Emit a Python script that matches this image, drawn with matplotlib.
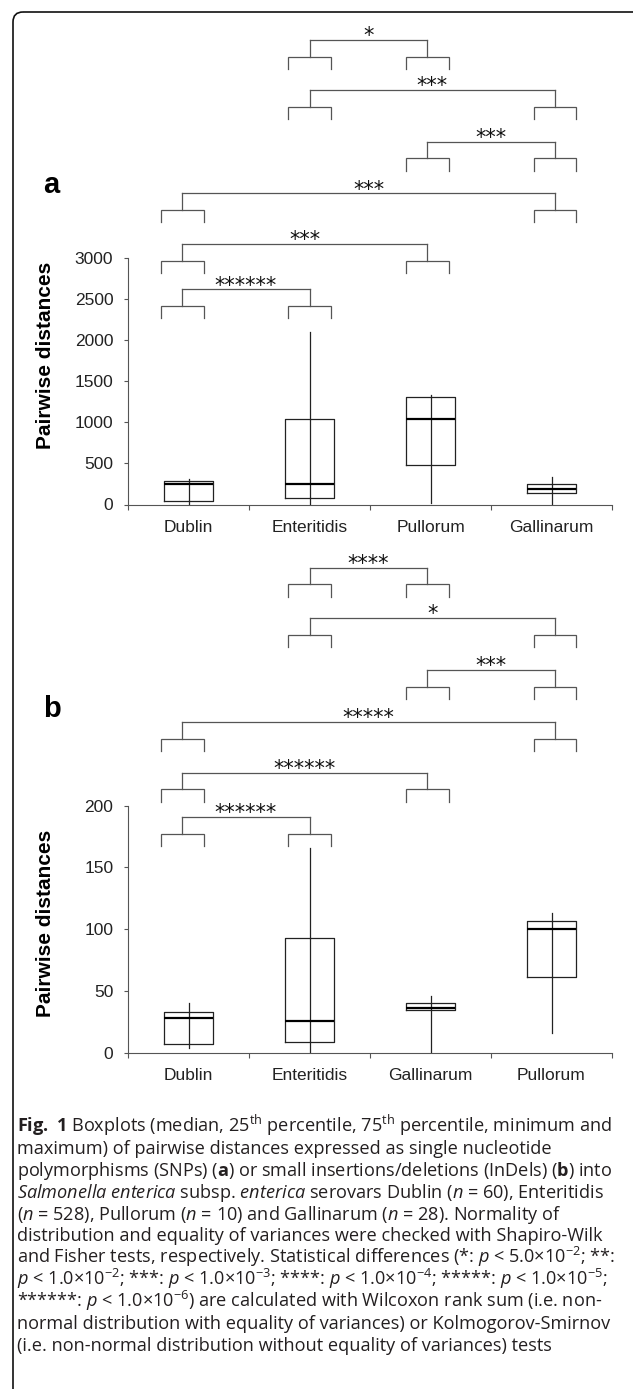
import matplotlib
matplotlib.use('Agg')
import matplotlib.pyplot as plt
from matplotlib.patches import FancyBboxPatch
import numpy as np

W, H = 633, 1389

# a: SNP 距离
cats_a = ['Dublin', 'Enteritidis', 'Pullorum', 'Gallinarum']
min_a = [0, 0, 24, 0]
q1_a = [44, 73, 484, 145]
med_a = [246, 246, 1036, 190]
q3_a = [286, 1036, 1300, 250]
max_a = [306, 2097, 1328, 330]
# 比较的两组，从下往上
pairs_a = [(0, 1), (0, 2), (0, 3), (2, 3), (1, 3), (1, 2)]
stars_a = ['******', '***', '***', '***', '***', '*']
levels_a = [2260, 2807, 3426, 4053, 4682, 5289]

# b: InDel 距离
cats_b = ['Dublin', 'Enteritidis', 'Gallinarum', 'Pullorum']
min_b = [4, 0, 0, 16]
q1_b = [7, 9, 34.5, 61]
med_b = [28, 26, 36, 100]
q3_b = [33, 93, 40, 107]
max_b = [40, 166, 46, 113]
pairs_b = [(0, 1), (0, 2), (0, 3), (2, 3), (1, 3), (1, 2)]
stars_b = ['******', '******', '*****', '***', '*', '****']
levels_b = [167, 203, 244, 286, 328, 369]

caption = [
    r'$\mathbf{Fig.\ 1}$ Boxplots (median, 25$^{th}$ percentile, 75$^{th}$ percentile, minimum and',
    'maximum) of pairwise distances expressed as single nucleotide',
    r'polymorphisms (SNPs) ($\mathbf{a}$) or small insertions/deletions (InDels) ($\mathbf{b}$) into',
    r'$\mathit{Salmonella}$ $\mathit{enterica}$ subsp. $\mathit{enterica}$ serovars Dublin ($\mathit{n}$ = 60), Enteritidis',
    r'($\mathit{n}$ = 528), Pullorum ($\mathit{n}$ = 10) and Gallinarum ($\mathit{n}$ = 28). Normality of',
    'distribution and equality of variances were checked with Shapiro-Wilk',
    r'and Fisher tests, respectively. Statistical differences (*: $\mathit{p}$ < 5.0×10$^{-2}$; **:',
    r'$\mathit{p}$ < 1.0×10$^{-2}$; ***: $\mathit{p}$ < 1.0×10$^{-3}$; ****: $\mathit{p}$ < 1.0×10$^{-4}$; *****: $\mathit{p}$ < 1.0×10$^{-5}$;',
    r'******: $\mathit{p}$ < 1.0×10$^{-6}$) are calculated with Wilcoxon rank sum (i.e. non-',
    'normal distribution with equality of variances) or Kolmogorov-Smirnov',
    '(i.e. non-normal distribution without equality of variances) tests',
]

plt.rcParams['font.family'] = ['Liberation Sans', 'DejaVu Sans']
plt.rcParams['mathtext.fontset'] = 'custom'
plt.rcParams['mathtext.rm'] = 'Open Sans'
plt.rcParams['mathtext.it'] = 'Open Sans:italic'
plt.rcParams['mathtext.bf'] = 'Open Sans:bold'
plt.rcParams['mathtext.default'] = 'regular'

line_c = '#555555'
box_c = '#222222'
# 小括号相对类别中心的偏移
shift = [-0.05, 0.0, -0.025, 0.03]
hw = 0.174


# 画一组显著性括号
def bracket(ax, i, j, base, s, leg, stub):
    top = base + leg
    main = top + stub
    xs = []
    for c in (i, j):
        x = c + shift[c]
        xs.append(x)
        ax.plot([x - hw, x - hw, x + hw, x + hw], [base, top, top, base],
                color=line_c, lw=0.9, clip_on=False, solid_joinstyle='miter')
        ax.plot([x, x], [top, main], color=line_c, lw=0.9, clip_on=False)
    ax.plot(xs, [main, main], color=line_c, lw=0.9, clip_on=False)
    ax.annotate(s, xy=(np.mean(xs), main), xytext=(0, -1.5), textcoords='offset points',
                ha='center', va='baseline', fontsize=15, family='DejaVu Sans',
                color='#111111', annotation_clip=False)


def panel(ax, cats, lo, q1, med, q3, hi, ymax, step, pairs, stars, levels):
    stats = [dict(med=m, q1=a, q3=b, whislo=l, whishi=h, fliers=[])
             for l, a, m, b, h in zip(lo, q1, med, q3, hi)]
    pos = np.arange(len(cats))
    ax.bxp(stats, positions=pos, widths=0.4, showcaps=False, showfliers=False,
           manage_ticks=False,
           boxprops=dict(color=box_c, lw=0.9),
           whiskerprops=dict(color=box_c, lw=0.9),
           medianprops=dict(color='black', lw=1.6))
    # 须线穿过箱体
    ax.vlines(pos, q1, q3, color=box_c, lw=0.9)
    ax.set_xlim(-0.5, 3.5)
    ax.set_ylim(0, ymax)
    ax.set_yticks(np.arange(0, ymax + 1, step))
    ax.set_xticks(np.arange(-0.5, 3.6, 1))
    ax.set_xticklabels([])
    ax.set_xticks(pos, minor=True)
    ax.set_xticklabels(cats, minor=True)
    ax.tick_params(axis='x', which='major', length=3.6, width=0.8, color=line_c)
    ax.tick_params(axis='x', which='minor', length=0, pad=11, labelsize=12.5, labelcolor='#222222')
    ax.tick_params(axis='y', length=3.1, width=0.8, color=line_c, pad=7.5,
                   labelsize=12.5, labelcolor='#222222')
    for k in ['top', 'right']:
        ax.spines[k].set_visible(False)
    for k in ['left', 'bottom']:
        ax.spines[k].set_color(line_c)
        ax.spines[k].set_linewidth(0.8)
    ax.patch.set_alpha(0)
    leg = ymax * 12.5 / 247
    stub = ymax * 16.5 / 247
    for (i, j), s, b in zip(pairs, stars, levels):
        bracket(ax, i, j, b, s, leg, stub)


fig = plt.figure(figsize=(W / 100, H / 100), dpi=100)

# 背景层: 外框, 面板字母, 纵轴标题, 图注
bg = fig.add_axes([0, 0, 1, 1])
bg.set_xlim(0, W)
bg.set_ylim(H, 0)
bg.axis('off')
frame = FancyBboxPatch((13, 12), 660, 1395, boxstyle='round,pad=0,rounding_size=10',
                       fill=False, lw=1.2, ec='#111111', clip_on=False)
bg.add_patch(frame)
bg.text(43, 192.7, 'a', fontsize=21, fontweight='bold', va='baseline', ha='left')
bg.text(43, 717.3, 'b', fontsize=21, fontweight='bold', va='baseline', ha='left')
bg.text(46, 355.5, 'Pairwise distances', rotation=90, ha='center', va='center',
        fontsize=15, fontweight='bold')
bg.text(46, 923.5, 'Pairwise distances', rotation=90, ha='center', va='center',
        fontsize=15, fontweight='bold')
for k, s in enumerate(caption):
    bg.text(17, 1131.7 + 21.95 * k, s, family='Open Sans', fontsize=13.1,
            color='#231f20', va='baseline', ha='left')

ax1 = fig.add_axes([128 / W, 1 - 504.5 / H, 484 / W, 247 / H])
panel(ax1, cats_a, min_a, q1_a, med_a, q3_a, max_a, 3000, 500, pairs_a, stars_a, levels_a)

ax2 = fig.add_axes([128 / W, 1 - 1052.8 / H, 484 / W, 247.2 / H])
panel(ax2, cats_b, min_b, q1_b, med_b, q3_b, max_b, 200, 50, pairs_b, stars_b, levels_b)

fig.savefig('out.png', dpi=100)
